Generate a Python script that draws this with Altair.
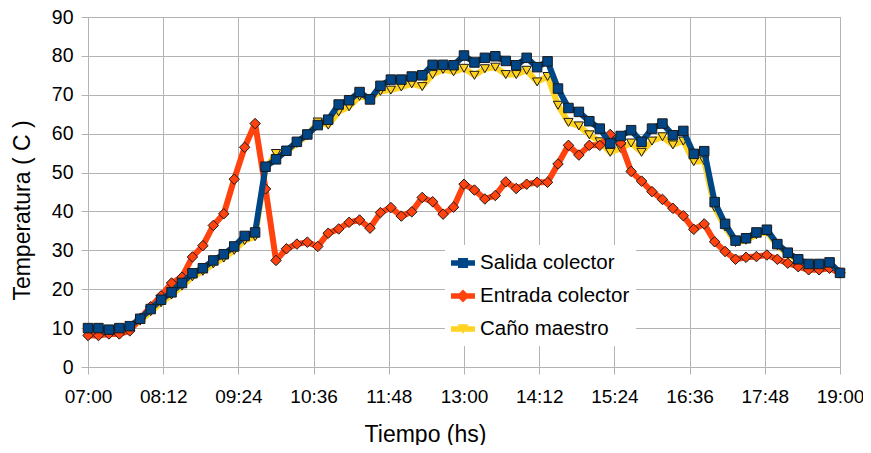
import altair as alt
import pandas as pd

tick_labels = ["07:00", "08:12", "09:24", "10:36", "11:48", "13:00",
               "14:12", "15:24", "16:36", "17:48", "19:00"]
tick_minutes = [0, 72, 144, 216, 288, 360, 432, 504, 576, 648, 720]
minutes = list(range(0, 721, 10))

salida = [10.0, 10.0, 9.6, 10.0, 10.5, 12.4, 14.9, 17.3, 19.2, 21.6,
          24.1, 25.4, 27.4, 29.0, 31.0, 33.7, 34.6, 51.5, 53.4, 55.6,
          57.9, 59.8, 62.2, 63.6, 67.5, 68.6, 70.7, 68.8, 72.3, 73.9,
          73.9, 74.7, 75.0, 77.7, 77.7, 77.6, 80.1, 78.3, 79.5, 79.9,
          78.7, 77.6, 79.5, 77.1, 78.6, 71.6, 66.6, 65.6, 63.2, 61.3,
          57.5, 59.4, 60.9, 57.9, 61.3, 62.6, 59.6, 60.7, 54.8, 55.5,
          42.4, 36.8, 32.5, 33.1, 34.6, 35.3, 31.6, 29.4, 27.7, 26.5,
          26.5, 26.9, 24.2]
entrada = [8.1, 8.1, 8.5, 8.5, 9.3, 12.5, 15.5, 18.3, 21.6, 23.1,
           28.3, 31.2, 36.4, 39.4, 48.3, 56.5, 62.6, 45.8, 27.4, 30.4,
           31.6, 32.1, 31.0, 34.4, 35.5, 37.2, 37.8, 35.7, 39.7, 41.0,
           38.8, 39.9, 43.6, 42.5, 39.3, 41.1, 47.0, 45.5, 43.2, 44.1,
           47.6, 45.9, 47.0, 47.5, 47.5, 52.2, 57.0, 54.5, 57.0, 57.0,
           59.8, 57.6, 50.3, 47.8, 45.1, 43.1, 40.8, 38.9, 35.4, 36.8,
           32.2, 29.7, 27.7, 28.2, 28.4, 28.8, 27.7, 26.7, 25.8, 25.0,
           25.0, 25.4, 24.2]
cano = [9.5, 9.5, 9.2, 9.5, 10.0, 11.8, 14.2, 16.5, 18.5, 20.8,
        23.2, 24.6, 26.5, 28.0, 30.0, 32.5, 33.5, 51.0, 54.9, 55.3,
        57.5, 59.5, 63.0, 62.2, 65.6, 66.9, 69.6, 69.0, 70.9, 71.2,
        72.0, 72.8, 72.1, 75.2, 76.5, 75.9, 76.8, 75.0, 76.7, 77.1,
        75.2, 75.2, 76.3, 73.3, 74.7, 67.3, 62.9, 62.0, 59.7, 57.9,
        55.2, 56.2, 57.6, 55.2, 58.1, 59.2, 57.1, 58.1, 52.8, 53.0,
        41.0, 36.0, 32.0, 32.6, 34.0, 34.8, 31.2, 29.0, 27.3, 26.2,
        26.2, 26.6, 24.0]

series_names = ["Salida colector", "Entrada colector", "Caño maestro"]
series_colors = ["#004586", "#ff420e", "#ffd320"]
series_shapes = ["square", "diamond", "triangle-down"]
series_sizes = [90, 110, 85]
legend_paths = [
    "M-1,-0.22H1V0.22H-1Z M-0.42,-0.42H0.42V0.42H-0.42Z",
    "M-1,-0.22H1V0.22H-1Z M0,-0.55L0.55,0L0,0.55L-0.55,0Z",
    "M-1,-0.22H1V0.22H-1Z M-0.45,-0.4L0.45,-0.4L0,0.42Z",
]

rows = []
for name, vals in zip(series_names, [salida, entrada, cano]):
    for m, v in zip(minutes, vals):
        rows.append({"t": m, "temp": v, "serie": name})
df = pd.DataFrame(rows)

label_expr = "[" + ",".join("'" + s + "'" for s in tick_labels) + "][round(datum.value/72)]"

x_enc = alt.X(
    "t:Q",
    scale=alt.Scale(domain=[0, 720], nice=False, zero=False),
    axis=alt.Axis(values=tick_minutes, labelExpr=label_expr, title="Tiempo (hs)",
                  tickSize=7, labelPadding=13, labelFlush=False, labelFontSize=19,
                  titleX=337, titleY=67, titleAlign="center", titleBaseline="middle"),
)
y_enc = alt.Y(
    "temp:Q",
    scale=alt.Scale(domain=[0, 90], nice=False),
    axis=alt.Axis(values=list(range(0, 91, 10)), title="Temperatura ( C )",
                  tickSize=7, labelPadding=8, titleX=-66, titleY=193,
                  titleAlign="center", titleBaseline="middle"),
)

layers = []
for idx in [2, 1, 0]:
    name = series_names[idx]
    base = alt.Chart(df).transform_filter(alt.datum.serie == name)
    layers.append(base.mark_line(color=series_colors[idx], strokeWidth=6,
                                 strokeJoin="round").encode(x=x_enc, y=y_enc))
    layers.append(base.mark_point(shape=series_shapes[idx], filled=True,
                                  fill=series_colors[idx], stroke="#1a1a1a",
                                  strokeWidth=1, size=series_sizes[idx],
                                  opacity=1).encode(x=x_enc, y=y_enc))

leg = alt.Legend(title=None, orient="none", legendX=357, legendY=228,
                 fillColor="white", padding=6, symbolSize=576, symbolOpacity=1,
                 symbolStrokeWidth=0, labelFont="Liberation Sans",
                 labelFontSize=20.5, labelColor="#000000", rowPadding=10,
                 labelOffset=5)

legend_layer = alt.Chart(df).mark_point(filled=True, opacity=0).encode(
    x=x_enc, y=y_enc,
    shape=alt.Shape("serie:N", scale=alt.Scale(domain=series_names, range=legend_paths), legend=leg),
    fill=alt.Fill("serie:N", scale=alt.Scale(domain=series_names, range=series_colors), legend=leg),
)

chart = alt.layer(*layers, legend_layer).properties(
    width=752, height=350,
    autosize=alt.AutoSizeParams(type="none"),
    padding={"left": 80, "top": 9, "right": 23, "bottom": 78},
).configure_axis(
    gridColor="#b3b3b3", gridWidth=1, domain=False, tickColor="#b3b3b3",
    labelFont="Liberation Sans", labelFontSize=19.5, labelColor="#000000",
    titleFont="Liberation Sans", titleFontSize=23, titleFontWeight="normal",
    titleColor="#000000",
).configure_view(stroke="#b3b3b3", strokeWidth=1)

chart.save("out.html", embed_options={"renderer": "svg", "actions": False})
